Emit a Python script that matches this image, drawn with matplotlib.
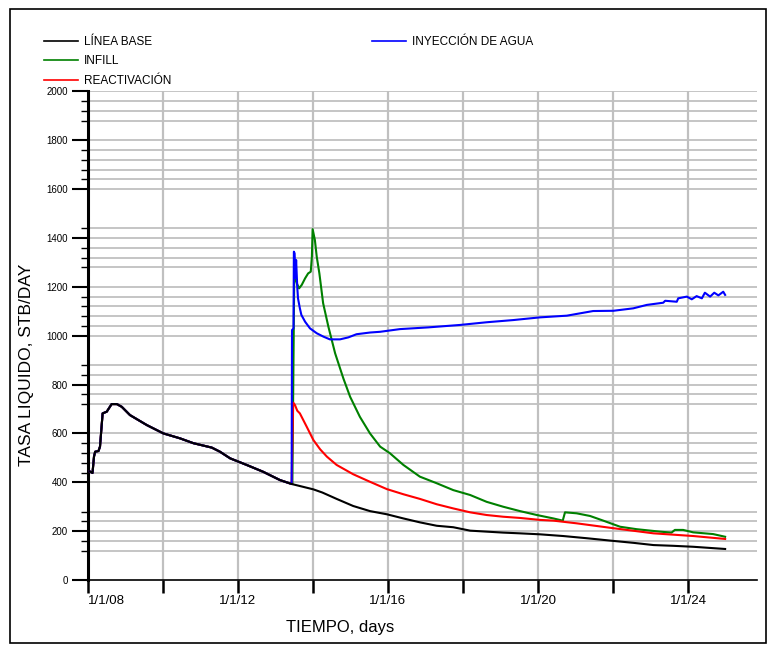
import numpy as np
import matplotlib.pyplot as plt
from matplotlib.patches import Rectangle

plt.rcParams['font.family'] = ['Liberation Sans', 'DejaVu Sans']

# historia comun a todos los casos (hasta el inicio de los proyectos)
hist_t = [2008.04, 2008.12, 2008.16, 2008.19, 2008.28, 2008.32, 2008.39, 2008.50,
          2008.63, 2008.77, 2008.90, 2009.12, 2009.57, 2010.01, 2010.45, 2010.81,
          2011.30, 2011.52, 2011.79, 2012.23, 2012.67, 2013.12, 2013.43]
hist_q = [445, 438, 505, 525, 528, 546, 682, 689,
          720, 720, 709, 675, 634, 600, 580, 560,
          542, 525, 498, 471, 443, 409, 393]

# LINEA BASE
base_t = [2014.01, 2014.25, 2014.63, 2015.07, 2015.52, 2015.97, 2016.41, 2016.85,
          2017.30, 2017.74, 2018.19, 2018.63, 2019.07, 2019.52, 2020.05, 2020.67,
          2021.30, 2022.01, 2022.55, 2023.08, 2023.60, 2024.14, 2024.99]
base_q = [371, 358, 332, 303, 282, 269, 252, 236,
          222, 216, 202, 198, 194, 191, 187, 180,
          171, 160, 152, 143, 140, 136, 127]

# INFILL
infill_t = [2013.45, 2013.50, 2013.57, 2013.63, 2013.70, 2013.79, 2013.87, 2013.94,
            2013.97, 2013.99, 2014.05, 2014.10, 2014.17, 2014.27, 2014.41, 2014.59,
            2014.81, 2014.99, 2015.25, 2015.52, 2015.79, 2016.05, 2016.41, 2016.85,
            2017.30, 2017.74, 2018.19, 2018.63, 2019.07, 2019.52, 2019.97, 2020.41,
            2020.66, 2020.72, 2021.03, 2021.39, 2021.74, 2022.19, 2022.63, 2023.25,
            2023.56, 2023.65, 2023.87, 2024.14, 2024.67, 2024.99]
infill_q = [393, 1250, 1214, 1194, 1208, 1235, 1255, 1262,
            1323, 1436, 1392, 1323, 1255, 1133, 1037, 928,
            825, 750, 668, 600, 546, 519, 471, 423,
            396, 368, 348, 320, 300, 282, 266, 252,
            243, 277, 273, 262, 243, 218, 208, 198,
            194, 205, 205, 195, 188, 177]

# REACTIVACION
react_t = [2013.47, 2013.52, 2013.58, 2013.65, 2013.83, 2014.01, 2014.19, 2014.37,
           2014.63, 2015.07, 2015.52, 2015.97, 2016.41, 2016.85, 2017.30, 2017.74,
           2018.19, 2018.63, 2019.07, 2019.52, 2020.05, 2020.41, 2021.03, 2022.01,
           2023.08, 2024.14, 2024.99]
react_q = [726, 716, 693, 682, 628, 573, 535, 505,
           471, 433, 402, 372, 351, 332, 310, 293,
           277, 266, 259, 254, 246, 243, 232, 212,
           191, 180, 168]

# INYECCION DE AGUA
iny_t = [2013.44, 2013.48, 2013.49, 2013.51, 2013.53, 2013.55, 2013.58, 2013.60,
         2013.65, 2013.69, 2013.79, 2013.92, 2014.10, 2014.28, 2014.45, 2014.72,
         2014.94, 2015.16, 2015.52, 2015.79, 2016.32, 2017.07, 2017.92, 2018.63,
         2019.34, 2020.05, 2020.77, 2021.47, 2022.01, 2022.54, 2022.90, 2023.34,
         2023.39, 2023.70, 2023.74, 2023.97, 2024.10, 2024.23, 2024.37, 2024.45,
         2024.59, 2024.70, 2024.81, 2024.94, 2024.99]
iny_q = [1023, 1030, 1344, 1337, 1235, 1310, 1200, 1153,
         1112, 1085, 1057, 1030, 1010, 996, 985, 985,
         993, 1006, 1013, 1016, 1027, 1034, 1044, 1055,
         1064, 1075, 1082, 1101, 1102, 1112, 1126, 1135,
         1143, 1139, 1153, 1160, 1149, 1162, 1153, 1176,
         1160, 1176, 1165, 1180, 1167]

# ejes
x_ticks = [2008, 2010, 2012, 2014, 2016, 2018, 2020, 2022, 2024]
x_labels = ['1/1/08', '', '1/1/12', '', '1/1/16', '', '1/1/20', '', '1/1/24']
y_ticks = [0, 200, 400, 600, 800, 1000, 1200, 1400, 1600, 1800, 2000]
y_grid = [120, 160, 200, 240, 280, 400, 440, 480, 520, 560, 600, 720, 760, 800, 840, 880,
          1000, 1040, 1080, 1120, 1160, 1200, 1280, 1320, 1360, 1400, 1440,
          1600, 1640, 1680, 1720, 1760, 1800, 1880, 1920, 1960, 2000]

fig = plt.figure(figsize=(7.68, 6.46), dpi=100)
ax = fig.add_axes([88/768, 1 - 580/646, (757 - 88)/768, (580 - 91.4)/646])

GRID = '#c0c0c0'
for g in y_grid:
    ax.axhline(g, color=GRID, lw=1.3, zorder=0)
for t in x_ticks[1:]:
    ax.axvline(t, color=GRID, lw=1.6, zorder=0)

def serie(t, q):
    return np.concatenate([hist_t, t]), np.concatenate([hist_q, q])

t, q = serie(infill_t, infill_q)
l_inf, = ax.plot(t, q, color='#008000', lw=1.5, zorder=2)
t, q = serie(react_t, react_q)
l_rea, = ax.plot(t, q, color='#ff0000', lw=1.5, zorder=3)
t, q = serie(iny_t, iny_q)
l_iny, = ax.plot(t, q, color='#0000ff', lw=1.5, zorder=4)
t, q = serie(base_t, base_q)
l_base, = ax.plot(t, q, color='black', lw=1.5, zorder=5)

ax.set_xlim(2008, 2025.84)
ax.set_ylim(0, 2000)

for s in ['top', 'right']:
    ax.spines[s].set_visible(False)
ax.spines['left'].set_linewidth(2.2)
ax.spines['bottom'].set_linewidth(1.2)

ax.set_xticks(x_ticks)
ax.set_xticklabels(x_labels, fontsize=9.5)
ax.get_xticklabels()[0].set_horizontalalignment('left')
ax.tick_params(axis='x', direction='out', length=9, width=1.8, pad=2)

ax.set_yticks(y_ticks)
ax.set_yticklabels([str(v) for v in y_ticks], fontsize=7)
ax.set_yticks(y_grid, minor=True)
ax.tick_params(axis='y', which='major', direction='out', length=11.5, width=1.5, pad=3)
ax.tick_params(axis='y', which='minor', direction='out', length=5, width=1)

ax.set_xlabel('TIEMPO, days', fontsize=12)
ax.xaxis.set_label_coords(0.377, -0.082)
ax.set_ylabel('TASA LIQUIDO, STB/DAY', fontsize=12.5)
ax.yaxis.set_label_coords(-0.08, 0.44)

leg1 = fig.legend([l_base, l_inf, l_rea], ['LÍNEA BASE', 'INFILL', 'REACTIVACIÓN'],
                  loc='upper left', bbox_to_anchor=(44/768, 1 - 36/646), frameon=False,
                  fontsize=8.5, handlelength=2.9, handletextpad=0.45, labelspacing=0.62,
                  borderpad=0, borderaxespad=0)
leg2 = fig.legend([l_iny], ['INYECCIÓN DE AGUA'],
                  loc='upper left', bbox_to_anchor=(372/768, 1 - 36/646), frameon=False,
                  fontsize=8.5, handlelength=2.9, handletextpad=0.45,
                  borderpad=0, borderaxespad=0)
for leg in (leg1, leg2):
    for h in leg.legend_handles:
        h.set_linewidth(1.2)

# marco exterior
fig.add_artist(Rectangle((10/768, 3/646), 756/768, 634/646, transform=fig.transFigure,
                         fill=False, lw=1.2, ec='black'))

fig.savefig('out.png', dpi=100)
